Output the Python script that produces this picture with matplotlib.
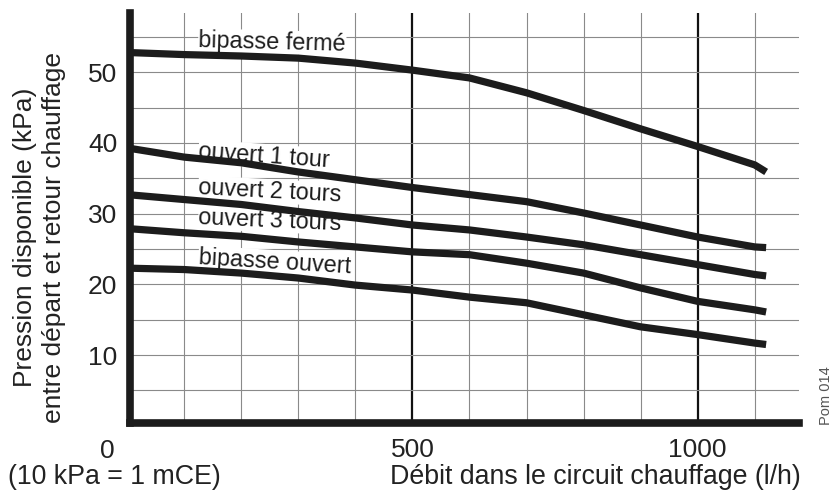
import matplotlib
matplotlib.use("Agg")
import matplotlib.pyplot as plt

plt.rcParams['font.family'] = ['Liberation Sans', 'DejaVu Sans']

# flow (l/h)
debit = [0, 100, 200, 300, 400, 500, 600, 700, 800, 900, 1000, 1100, 1120]

# available pressure (kPa) per bypass setting
bipasse_ferme = [52.8, 52.5, 52.3, 52.0, 51.3, 50.3, 49.2, 47.1, 44.6, 42.0, 39.5, 36.9, 35.9]
ouvert_1_tour = [39.3, 38.0, 37.2, 35.9, 34.8, 33.7, 32.7, 31.7, 30.1, 28.4, 26.7, 25.3, 25.2]
ouvert_2_tours = [32.7, 32.0, 31.3, 30.3, 29.4, 28.4, 27.7, 26.7, 25.6, 24.2, 22.8, 21.4, 21.2]
ouvert_3_tours = [27.9, 27.3, 26.8, 26.0, 25.3, 24.6, 24.2, 23.0, 21.6, 19.5, 17.6, 16.4, 16.1]
bipasse_ouvert = [22.3, 22.1, 21.6, 20.9, 19.9, 19.2, 18.2, 17.4, 15.7, 14.0, 12.9, 11.7, 11.5]

courbes = [
    ("bipasse fermé", bipasse_ferme),
    ("ouvert 1 tour", ouvert_1_tour),
    ("ouvert 2 tours", ouvert_2_tours),
    ("ouvert 3 tours", ouvert_3_tours),
    ("bipasse ouvert", bipasse_ouvert),
]
# label baseline anchor (x, y) and rotation
etiquettes = [(125, 53.6, -1.5), (125, 37.9, -4), (125, 32.8, -3), (125, 28.6, -2.5), (125, 22.9, -3.5)]

x_ticks = [500, 1000]
y_ticks = [10, 20, 30, 40, 50]

fig = plt.figure(figsize=(8.36, 4.95), dpi=100)
ax = fig.add_axes([0.1555, 0.1455, 0.8005, 0.8285])
ax.set_xlim(5, 1178)
ax.set_ylim(0.4, 58.4)

# grid
for gx in range(100, 1200, 100):
    if gx in (500, 1000):
        ax.axvline(gx, color='#111111', lw=1.6, zorder=1)
    else:
        ax.axvline(gx, color='#8a8a8a', lw=0.8, zorder=1)
for gy in range(5, 60, 5):
    ax.axhline(gy, color='#8a8a8a', lw=0.8, zorder=1)

for (nom, vals), (tx, ty, rot) in zip(courbes, etiquettes):
    ax.plot(debit, vals, color='#1c1c1c', lw=5.2, solid_capstyle='butt',
            solid_joinstyle='round', zorder=3)
    ax.text(tx, ty, nom, fontsize=16.8, rotation=rot, rotation_mode='anchor',
            ha='left', va='baseline', zorder=2, color='#1c1c1c',
            bbox=dict(facecolor='white', edgecolor='none', pad=0.3))

for s in ['top', 'right']:
    ax.spines[s].set_visible(False)
for s in ['left', 'bottom']:
    ax.spines[s].set_linewidth(5.5)
    ax.spines[s].set_color('#1c1c1c')
    ax.spines[s].set_zorder(5)

ax.set_xticks(x_ticks)
ax.set_yticks(y_ticks)
ax.tick_params(length=0, labelsize=19, colors='#222222')
ax.tick_params(axis='x', pad=11)
ax.tick_params(axis='y', pad=9)
ax.text(-35, -3.5, "0", fontsize=19, color='#222222', ha='center', va='center',
        transform=ax.transData, clip_on=False)

fig.text(0.030, 0.521, "Pression disponible (kPa)", rotation=90, fontsize=19,
         ha='center', va='center', color='#222222')
fig.text(0.064, 0.521, "entre départ et retour chauffage", rotation=90, fontsize=19,
         ha='center', va='center', color='#222222')
fig.text(0.010, 0.036, "(10 kPa = 1 mCE)", fontsize=19.3, ha='left', va='center', color='#222222')
fig.text(0.958, 0.036, "Débit dans le circuit chauffage (l/h)", fontsize=19.3,
         ha='right', va='center', color='#222222')
fig.text(0.9875, 0.2, "Pom 014", rotation=90, fontsize=10.5, ha='center', va='center',
         color='#555555')

fig.savefig("out.png", dpi=100)
